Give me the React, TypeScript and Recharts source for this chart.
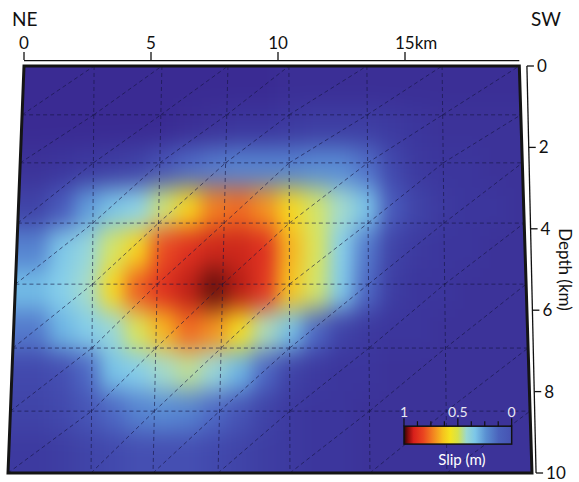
import React from 'react';
import { ScatterChart, Scatter, XAxis, YAxis, ReferenceLine, ReferenceArea } from 'recharts';

if (typeof document !== 'undefined') {
  document.body.style.margin = '0';
  document.body.style.overflow = 'hidden';
}

// ---------- layout ----------
const CHART_W = 579;
const CHART_H = 482;
const MARGIN = { top: 6, right: 0, bottom: 9, left: 8 };
const X_AXIS_H = 60;
const Y_AXIS_W = 47;
const FONT = "Lato, 'Open Sans', sans-serif";

// ---------- axes ----------
const X_DOMAIN: [number, number] = [-0.63, 20.0];
const DEPTH_DOMAIN: [number, number] = [0, 10];
const X_TICKS = [0, 5, 10, 15];
const X_UNIT = 'km';
const DEPTH_TICKS = [0, 2, 4, 6, 8, 10];
const SCALE_BAR_X = [0, 19.5];
const SCALE_BAR_DEPTH = -0.13;
const DEPTH_AXIS_X = [19.8, 20.16]; // at depth 0 and depth 10

// ---------- fault outline ----------
const FAULT_TOP_X = [0, 19.5];
const FAULT_BOTTOM_X = [-0.63, 20.0];

// ---------- mesh ----------
const MESH_TOP_X = [2.76, 5.43, 8.03, 10.43, 13.5, 16.46];
const MESH_BOTTOM_X = [2.64, 5.08, 7.64, 10.47, 13.62, 16.65];
const MESH_DEPTHS = [1.2, 2.38, 3.86, 5.36, 6.93, 8.48];

// ---------- slip grid (cell centres, km) ----------
const CELL_X = [0.5, 1.5, 2.5, 3.5, 4.5, 5.5, 6.5, 7.5, 8.5, 9.5, 10.5, 11.5, 12.5, 13.5, 14.5, 15.5, 16.5, 17.5, 18.5, 19.5];
const CELL_DEPTH = [0.5, 1.5, 2.5, 3.5, 4.5, 5.5, 6.5, 7.5, 8.5, 9.5];
const SLIP_D0 = [0, 0, 0, 0, 0, 0, 0, 0, 0, 0, 0.01, 0.01, 0.01, 0.01, 0.01, 0.01, 0.01, 0.01, 0.01, 0.01];
const SLIP_D1 = [0, 0, 0, 0, 0, 0, 0.01, 0.02, 0.03, 0.03, 0.04, 0.05, 0.05, 0.05, 0.04, 0.03, 0.02, 0.02, 0.02, 0.02];
const SLIP_D2 = [0.02, 0.03, 0.04, 0.05, 0.06, 0.09, 0.12, 0.14, 0.15, 0.15, 0.15, 0.16, 0.16, 0.13, 0.07, 0.04, 0.03, 0.03, 0.02, 0.02];
const SLIP_D3 = [0.06, 0.1, 0.18, 0.26, 0.32, 0.44, 0.58, 0.68, 0.7, 0.66, 0.56, 0.45, 0.38, 0.26, 0.1, 0.06, 0.04, 0.03, 0.03, 0.02];
const SLIP_D4 = [0.15, 0.27, 0.34, 0.45, 0.58, 0.75, 0.86, 0.9, 0.9, 0.86, 0.62, 0.46, 0.3, 0.14, 0.06, 0.04, 0.03, 0.03, 0.02, 0.02];
const SLIP_D5 = [0.23, 0.3, 0.38, 0.56, 0.72, 0.86, 0.92, 0.98, 0.93, 0.82, 0.6, 0.45, 0.28, 0.12, 0.05, 0.03, 0.03, 0.02, 0.02, 0.02];
const SLIP_D6 = [0.14, 0.22, 0.29, 0.35, 0.46, 0.62, 0.7, 0.66, 0.54, 0.4, 0.25, 0.12, 0.06, 0.04, 0.03, 0.03, 0.02, 0.02, 0.02, 0.02];
const SLIP_D7 = [0.07, 0.08, 0.12, 0.25, 0.3, 0.38, 0.42, 0.35, 0.22, 0.12, 0.06, 0.04, 0.03, 0.03, 0.02, 0.02, 0.02, 0.02, 0.02, 0.02];
const SLIP_D8 = [0.06, 0.07, 0.09, 0.12, 0.15, 0.16, 0.15, 0.12, 0.09, 0.06, 0.04, 0.03, 0.03, 0.02, 0.02, 0.02, 0.02, 0.02, 0.02, 0.02];
const SLIP_D9 = [0.04, 0.05, 0.06, 0.07, 0.08, 0.08, 0.08, 0.07, 0.06, 0.05, 0.04, 0.03, 0.03, 0.02, 0.02, 0.02, 0.02, 0.02, 0.02, 0.02];
const SLIP_ROWS = [SLIP_D0, SLIP_D1, SLIP_D2, SLIP_D3, SLIP_D4, SLIP_D5, SLIP_D6, SLIP_D7, SLIP_D8, SLIP_D9];

// ---------- colour bar ----------
const COLORBAR_X = [14.96, 19.2];
const COLORBAR_DEPTH = [8.85, 9.29];
const COLORBAR_TICKS = [1, 0.875, 0.75, 0.625, 0.5, 0.375, 0.25, 0.125, 0];
const COLORBAR_LABELS = [1, 0.5, 0];
const COLORBAR_TITLE = 'Slip (m)';

const HEAT_STOPS: [number, string][] = [
  [0.0, '#3a2b93'],
  [0.05, '#3e3ea3'],
  [0.11, '#4b60c0'],
  [0.17, '#5c94d8'],
  [0.23, '#72bce6'],
  [0.31, '#8ad2ea'],
  [0.39, '#a8dcc8'],
  [0.45, '#d4e468'],
  [0.5, '#f2e522'],
  [0.58, '#f8d41e'],
  [0.64, '#f6a620'],
  [0.7, '#f06a22'],
  [0.77, '#e64024'],
  [0.88, '#dc2e20'],
  [0.95, '#a81812'],
  [1.0, '#3c0a08'],
];

const BAR_STOPS: [string, string][] = [
  ['0%', '#2a0505'],
  ['4%', '#8a0c0c'],
  ['9%', '#d8201b'],
  ['18%', '#ea4520'],
  ['28%', '#f38a20'],
  ['36%', '#f6c21e'],
  ['43%', '#f4e41f'],
  ['50%', '#d6e24a'],
  ['58%', '#9ad8d0'],
  ['66%', '#7cc6e8'],
  ['76%', '#5a90d2'],
  ['88%', '#4a62bc'],
  ['100%', '#4652b2'],
];

const PLOT_W = CHART_W - MARGIN.left - MARGIN.right - Y_AXIS_W;
const PLOT_H = CHART_H - MARGIN.top - MARGIN.bottom - X_AXIS_H;
const KM_PX = PLOT_W / (X_DOMAIN[1] - X_DOMAIN[0]);
const DEPTH_PX = PLOT_H / (DEPTH_DOMAIN[1] - DEPTH_DOMAIN[0]);
const CELL_KM = CELL_X[1] - CELL_X[0];
const CELL_DKM = CELL_DEPTH[1] - CELL_DEPTH[0];

function hexToRgb(h: string) {
  const n = parseInt(h.slice(1), 16);
  return [(n >> 16) & 255, (n >> 8) & 255, n & 255];
}
function slipColor(v: number) {
  const t = Math.max(0, Math.min(1, v));
  for (let i = 1; i < HEAT_STOPS.length; i++) {
    const [v1, c1] = HEAT_STOPS[i];
    const [v0, c0] = HEAT_STOPS[i - 1];
    if (t <= v1) {
      const f = (t - v0) / (v1 - v0);
      const a = hexToRgb(c0);
      const b = hexToRgb(c1);
      const m = a.map((x, k) => Math.round(x + (b[k] - x) * f));
      return `rgb(${m[0]},${m[1]},${m[2]})`;
    }
  }
  return HEAT_STOPS[HEAT_STOPS.length - 1][1];
}

const heatData = SLIP_ROWS.flatMap((row, r) =>
  row.map((slip, c) => ({ x: CELL_X[c], depth: CELL_DEPTH[r], slip, col: c, row: r }))
);

function HeatCell(p: any) {
  const { cx, cy, payload } = p;
  if (cx == null || cy == null) return null;
  const w = KM_PX * CELL_KM;
  const h = DEPTH_PX * CELL_DKM;
  const EXT = 45;
  let x0 = cx - w / 2 - 0.6;
  let x1 = cx + w / 2 + 0.6;
  let y0 = cy - h / 2 - 0.6;
  let y1 = cy + h / 2 + 0.6;
  if (payload.col === 0) x0 -= EXT;
  if (payload.col === CELL_X.length - 1) x1 += EXT;
  if (payload.row === 0) y0 -= EXT;
  if (payload.row === CELL_DEPTH.length - 1) y1 += EXT;
  return <rect x={x0} y={y0} width={x1 - x0} height={y1 - y0} fill={slipColor(payload.slip)} />;
}

function FrameShape(p: any) {
  const { x, y, width, height } = p;
  const span = X_DOMAIN[1] - X_DOMAIN[0];
  const px = (km: number) => x + ((km - X_DOMAIN[0]) / span) * width;
  const tlx = px(FAULT_TOP_X[0]);
  const trx = px(FAULT_TOP_X[1]);
  const blx = px(FAULT_BOTTOM_X[0]);
  const brx = px(FAULT_BOTTOM_X[1]);
  const yb = y + height;
  return (
    <g>
      <polygon points={`${x - 3},${y - 3} ${tlx},${y - 3} ${tlx},${y} ${blx},${yb} ${x - 3},${yb + 3}`} fill="#ffffff" />
      <polygon points={`${trx},${y - 3} ${x + width + 3},${y - 3} ${x + width + 3},${yb + 3} ${brx},${yb} ${trx},${y}`} fill="#ffffff" />
      <polygon
        points={`${tlx},${y} ${trx},${y} ${brx},${yb} ${blx},${yb}`}
        fill="none"
        stroke="#151515"
        strokeWidth={3}
        strokeLinejoin="miter"
      />
    </g>
  );
}

function ColorbarShape(p: any) {
  const { x, y, width, height } = p;
  const posOf = (v: number) => x + (1 - v) * width;
  return (
    <g fontFamily={FONT}>
      <rect x={x} y={y} width={width} height={height} fill="url(#slipBarGrad)" stroke="#111" strokeWidth={1.5} />
      {COLORBAR_TICKS.map((v) => {
        const big = COLORBAR_LABELS.includes(v);
        return (
          <line key={v} x1={posOf(v)} x2={posOf(v)} y1={y} y2={y - (big ? 8 : 5)} stroke="#111" strokeWidth={1.2} />
        );
      })}
      {COLORBAR_LABELS.map((v) => (
        <text key={v} x={posOf(v)} y={y - 9} textAnchor="middle" fontSize={14} fill="#e8e8f2">
          {v}
        </text>
      ))}
      <text x={x + width / 2 + 4} y={y + height + 21} textAnchor="middle" fontSize={15} fill="#ffffff">
        {COLORBAR_TITLE}
      </text>
    </g>
  );
}

function TopTick(p: any) {
  const { x, y, payload } = p;
  const v = payload.value;
  const isLast = v === X_TICKS[X_TICKS.length - 1];
  return (
    <g fontFamily={FONT}>
      <line x1={x} x2={x} y1={y - 6} y2={y - 14} stroke="#111" strokeWidth={1.3} />
      {isLast ? (
        <text x={x - 10} y={y - 17} textAnchor="start" fontSize={17} fill="#111">
          {`${v}${X_UNIT}`}
        </text>
      ) : (
        <text x={x} y={y - 17} textAnchor="middle" fontSize={17} fill="#111">
          {v}
        </text>
      )}
    </g>
  );
}

function DepthTick(p: any) {
  const { x, y, payload } = p;
  const v = payload.value;
  const f = (v - DEPTH_DOMAIN[0]) / (DEPTH_DOMAIN[1] - DEPTH_DOMAIN[0]);
  const axisKm = DEPTH_AXIS_X[0] + (DEPTH_AXIS_X[1] - DEPTH_AXIS_X[0]) * f;
  const lx = x + (axisKm - X_DOMAIN[1]) * KM_PX;
  return (
    <g fontFamily={FONT}>
      <line x1={lx} x2={lx + 7} y1={y} y2={y} stroke="#111" strokeWidth={1.3} />
      <text x={lx + 10} y={y} dy="0.35em" textAnchor="start" fontSize={17} fill="#111">
        {v}
      </text>
    </g>
  );
}

function DepthLabel(p: any) {
  const vb = p.viewBox || {};
  const cx = (vb.x ?? CHART_W - Y_AXIS_W) + 33;
  const cy = (vb.y ?? MARGIN.top + X_AXIS_H) + (vb.height ?? PLOT_H) / 2;
  return (
    <text
      x={cx}
      y={cy}
      transform={`rotate(90, ${cx}, ${cy})`}
      textAnchor="middle"
      dy="0.35em"
      fontSize={17}
      fontFamily={FONT}
      fill="#111"
    >
      Depth (km)
    </text>
  );
}

// mesh geometry helpers (from data arrays)
const MESH_COLS: [number, number][] = [
  [FAULT_TOP_X[0], FAULT_BOTTOM_X[0]],
  ...MESH_TOP_X.map((t, i) => [t, MESH_BOTTOM_X[i]] as [number, number]),
  [FAULT_TOP_X[1], FAULT_BOTTOM_X[1]],
];
const MESH_ROWS = [DEPTH_DOMAIN[0], ...MESH_DEPTHS, DEPTH_DOMAIN[1]];
const colXAt = (c: number, d: number) => {
  const [t, b] = MESH_COLS[c];
  return t + ((b - t) * (d - DEPTH_DOMAIN[0])) / (DEPTH_DOMAIN[1] - DEPTH_DOMAIN[0]);
};

const MESH_STYLE = { stroke: '#141440', strokeOpacity: 0.6, strokeWidth: 1, strokeDasharray: '4 3' };

export default function App() {
  const verticals = MESH_TOP_X.map((t, i) => (
    <ReferenceLine
      key={`v${i}`}
      segment={[{ x: t, y: DEPTH_DOMAIN[0] }, { x: MESH_BOTTOM_X[i], y: DEPTH_DOMAIN[1] }]}
      ifOverflow="visible"
      zIndex={700}
      {...MESH_STYLE}
    />
  ));
  const horizontals = MESH_DEPTHS.map((d, i) => (
    <ReferenceLine
      key={`h${i}`}
      segment={[{ x: colXAt(0, d), y: d }, { x: colXAt(MESH_COLS.length - 1, d), y: d }]}
      ifOverflow="visible"
      zIndex={700}
      {...MESH_STYLE}
    />
  ));
  const diagonals: React.ReactNode[] = [];
  for (let c = 0; c < MESH_COLS.length - 1; c++) {
    for (let r = 0; r < MESH_ROWS.length - 1; r++) {
      const dLow = MESH_ROWS[r + 1];
      const dHigh = MESH_ROWS[r];
      diagonals.push(
        <ReferenceLine
          key={`d${c}-${r}`}
          segment={[{ x: colXAt(c, dLow), y: dLow }, { x: colXAt(c + 1, dHigh), y: dHigh }]}
          ifOverflow="visible"
          zIndex={700}
          {...MESH_STYLE}
        />
      );
    }
  }

  return (
    <div style={{ position: 'relative', width: CHART_W, height: CHART_H, background: '#fff' }}>
      <style>{`.slip-heat { filter: url(#slipBlur); }`}</style>
      <svg width={0} height={0} style={{ position: 'absolute' }}>
        <defs>
          <filter id="slipBlur" x="-10%" y="-10%" width="120%" height="120%" colorInterpolationFilters="sRGB">
            <feGaussianBlur stdDeviation="9 12" edgeMode="duplicate" />
          </filter>
          <linearGradient id="slipBarGrad" x1="0" y1="0" x2="1" y2="0">
            {BAR_STOPS.map(([o, c]) => (
              <stop key={o} offset={o} stopColor={c} />
            ))}
          </linearGradient>
        </defs>
      </svg>
      <ScatterChart width={CHART_W} height={CHART_H} margin={MARGIN}>
        <XAxis
          type="number"
          dataKey="x"
          orientation="top"
          domain={X_DOMAIN}
          allowDataOverflow
          ticks={X_TICKS}
          interval={0}
          height={X_AXIS_H}
          axisLine={false}
          tickLine={false}
          tickSize={0}
          tickMargin={0}
          tick={<TopTick />}
        />
        <YAxis
          type="number"
          dataKey="depth"
          orientation="right"
          domain={DEPTH_DOMAIN}
          reversed
          allowDataOverflow
          ticks={DEPTH_TICKS}
          interval={0}
          width={Y_AXIS_W}
          axisLine={false}
          tickLine={false}
          tickSize={0}
          tickMargin={0}
          tick={<DepthTick />}
          label={{ value: 'Depth (km)', content: (lp: any) => <DepthLabel {...lp} /> }}
        />
        <Scatter
          data={heatData}
          className="slip-heat"
          isAnimationActive={false}
          shape={(sp: any) => <HeatCell {...sp} />}
          zIndex={100}
        />
        {verticals}
        {horizontals}
        {diagonals}
        <ReferenceArea
          x1={X_DOMAIN[0]}
          x2={X_DOMAIN[1]}
          y1={DEPTH_DOMAIN[0]}
          y2={DEPTH_DOMAIN[1]}
          ifOverflow="visible"
          zIndex={800}
          shape={(fp: any) => <FrameShape {...fp} />}
        />
        <ReferenceLine
          segment={[{ x: SCALE_BAR_X[0], y: SCALE_BAR_DEPTH }, { x: SCALE_BAR_X[1], y: SCALE_BAR_DEPTH }]}
          ifOverflow="visible"
          stroke="#111"
          strokeWidth={1.3}
          zIndex={900}
        />
        <ReferenceLine
          segment={[{ x: DEPTH_AXIS_X[0], y: DEPTH_DOMAIN[0] }, { x: DEPTH_AXIS_X[1], y: DEPTH_DOMAIN[1] }]}
          ifOverflow="visible"
          stroke="#111"
          strokeWidth={1.3}
          zIndex={900}
        />
        <ReferenceArea
          x1={COLORBAR_X[0]}
          x2={COLORBAR_X[1]}
          y1={COLORBAR_DEPTH[0]}
          y2={COLORBAR_DEPTH[1]}
          ifOverflow="visible"
          zIndex={950}
          shape={(cp: any) => <ColorbarShape {...cp} />}
        />
      </ScatterChart>
      <svg
        width={CHART_W}
        height={40}
        style={{ position: 'absolute', left: 0, top: 0, pointerEvents: 'none' }}
      >
        <text x={12} y={26} fontSize={19} fontFamily={FONT} fill="#111">
          NE
        </text>
        <text x={561} y={26} textAnchor="end" fontSize={19} fontFamily={FONT} fill="#111">
          SW
        </text>
      </svg>
    </div>
  );
}
